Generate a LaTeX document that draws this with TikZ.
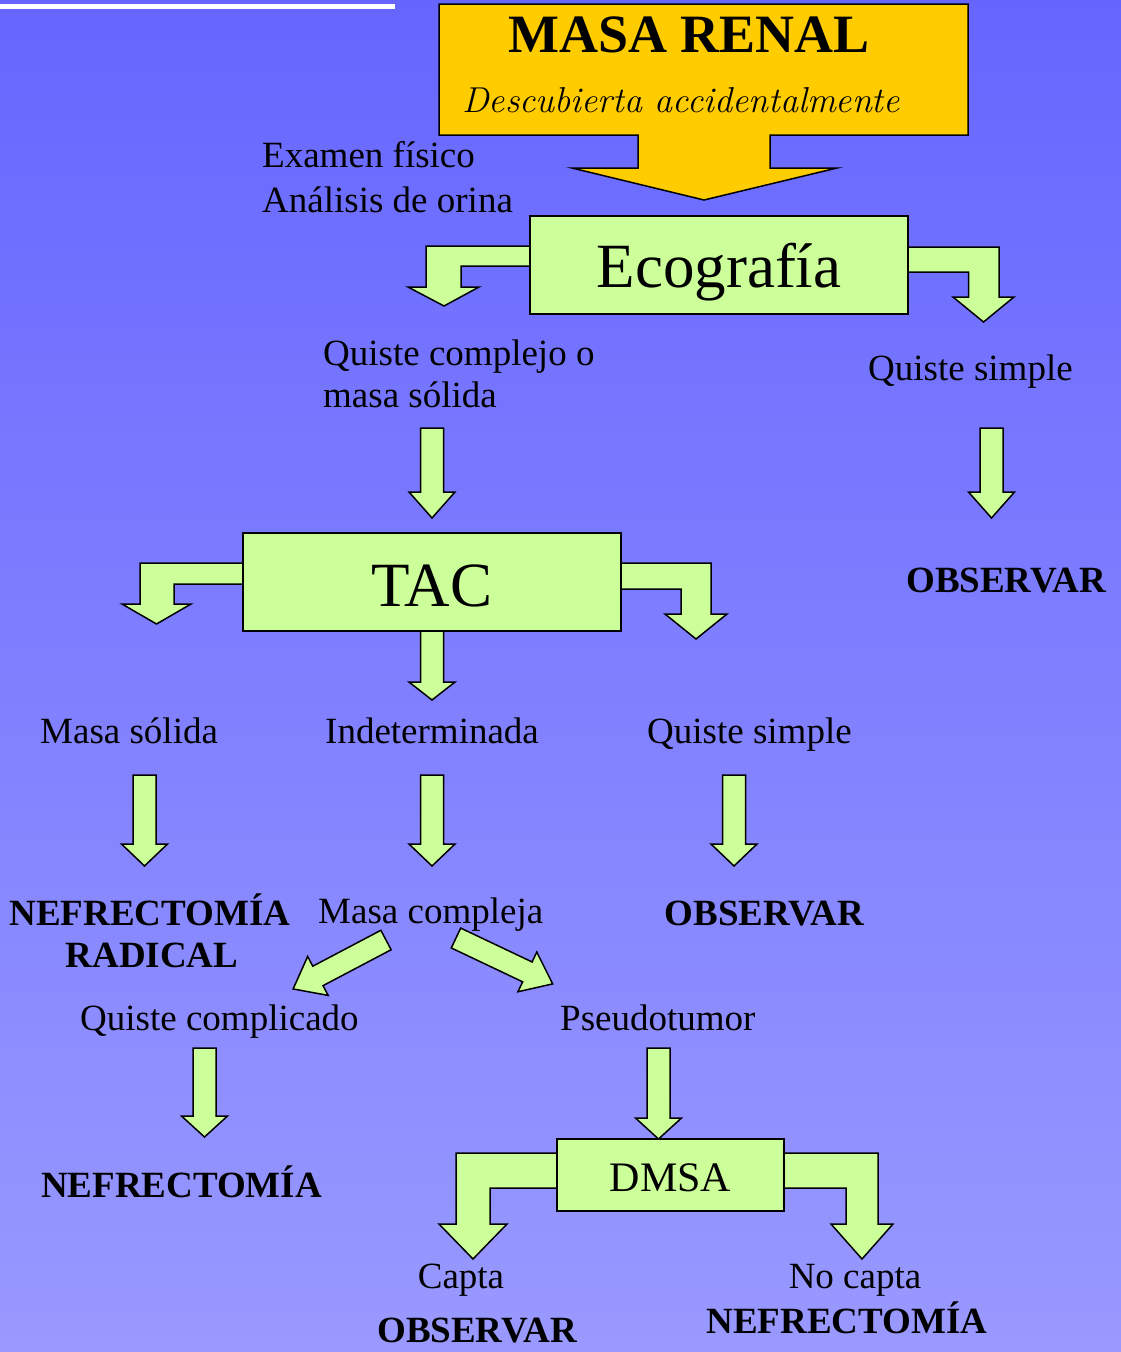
\documentclass[tikz,border=0pt]{standalone}
\usepackage{fontspec}
\setmainfont{Liberation Serif}
\usetikzlibrary{calc}

\definecolor{bgtop}{RGB}{102,102,255}
\definecolor{bgbot}{RGB}{153,153,255}
\definecolor{verde}{RGB}{204,255,153}
\definecolor{amarillo}{RGB}{255,204,0}

\begin{document}
\begin{tikzpicture}[x=1pt,y=-1pt,line join=miter]

\tikzset{blk/.style={draw=black,fill=verde,line width=1.5pt},
caja/.style={blk,inner sep=0pt,font=\fontsize{63}{70}\selectfont,text depth=0pt},
txt/.style={inner sep=0pt,anchor=base west,font=\fontsize{37}{42}\selectfont},
neg/.style={inner sep=0pt,anchor=base,font=\fontsize{37}{42}\selectfont\bfseries}}

% x, y top, y tip, head length
\newcommand{\flechaabajo}[4]{%
\draw[blk] (#1-11.5,#2) -- (#1+11.5,#2) -- (#1+11.5,#3-#4) -- (#1+23,#3-#4) -- (#1,#3) -- (#1-23,#3-#4) -- (#1-11.5,#3-#4) -- cycle;}

% x, y of tail, angle, length
\newcommand{\flechadiag}[4]{%
\begin{scope}[shift={(#1,#2)},rotate=#3]
\draw[blk] (0,-11) -- (#4-28,-11) -- (#4-28,-22) -- (#4,0) -- (#4-28,22) -- (#4-28,11) -- (0,11) -- cycle;
\end{scope}}

\shade[top color=bgtop,bottom color=bgbot] (0,0) rectangle (1121,1352);
\useasboundingbox (0,0) rectangle (1121,1352);
\fill[white] (0,4) rectangle (395,9);

% masa renal
\draw[line width=1.5pt,fill=amarillo] (439,4) -- (968,4) -- (968,135) -- (770,135) -- (770,168) -- (837,168) -- (704,200) -- (572,168) -- (638,168) -- (638,135) -- (439,135) -- cycle;
\node[inner sep=0pt,anchor=base,font=\fontsize{54}{60}\selectfont\bfseries] (masa) at (689,52) {MASA RENAL};
\node[inner sep=0pt,anchor=base,font=\fontsize{36}{40}\fontfamily{lmr}\itshape\selectfont] (desc) at (681,112) {Descubierta accidentalmente};

\node[txt] (examen) at (262,167) {Examen físico};
\node[txt] (orina) at (262,212) {Análisis de orina};

% ecografia
\draw[blk] (530,246) -- (426,246) -- (426,287) -- (408,287) -- (444,306) -- (479,287) -- (461,287) -- (461,266) -- (530,266) -- cycle;
\draw[blk] (908,247) -- (999,247) -- (999,297) -- (1014,297) -- (983.5,322) -- (953,297) -- (968.5,297) -- (968.5,272) -- (908,272) -- cycle;
\node[caja,minimum width=378,minimum height=98,text height=44pt] (eco) at (719,265) {Ecografía};

\node[txt] (complejo) at (323,365) {Quiste complejo o};
\node[txt] (solida) at (323,407) {masa sólida};
\node[txt] (simple1) at (868,380) {Quiste simple};
\flechaabajo{432}{428}{518}{26}
\flechaabajo{991.5}{428}{518}{26}
\node[neg] (observar1) at (1006,592) {OBSERVAR};

% tac
\draw[blk] (243,563) -- (140,563) -- (140,604) -- (122,604) -- (156.5,624) -- (191,604) -- (174,604) -- (174,584) -- (243,584) -- cycle;
\draw[blk] (621,563) -- (711,563) -- (711,614) -- (727,614) -- (696,639) -- (665,614) -- (681,614) -- (681,589) -- (621,589) -- cycle;
\flechaabajo{432}{620}{700}{18}
\node[caja,minimum width=378,minimum height=98,text height=48pt] (tac) at (432,582) {TAC};

\node[txt] (msolida) at (40,743) {Masa sólida};
\node[txt] (indet) at (325,743) {Indeterminada};
\node[txt] (simple2) at (647,743) {Quiste simple};
\flechaabajo{144.5}{775}{866}{22}
\flechaabajo{432}{775}{866}{22}
\flechaabajo{734}{775}{866}{22}

\node[neg] (nefrad) at (150,925) {NEFRECTOMÍA};
\node[neg] (radical) at (152,967) {RADICAL};
\node[txt] (mcompleja) at (318,923) {Masa compleja};
\node[neg] (observar2) at (764.5,925) {OBSERVAR};

\flechadiag{386}{940}{207.8}{105}
\flechadiag{456}{938}{-25.4}{107}

\node[txt] (complicado) at (80,1030) {Quiste complicado};
\node[txt] (pseudo) at (560,1030) {Pseudotumor};
\flechaabajo{204.5}{1048}{1137}{21}
\flechaabajo{658.5}{1048}{1139}{21}
\node[neg] (nef) at (181.5,1197) {NEFRECTOMÍA};

% dmsa
\draw[blk] (557,1153) -- (456,1153) -- (456,1224) -- (439,1224) -- (473,1259) -- (507,1224) -- (490,1224) -- (490,1188) -- (557,1188) -- cycle;
\draw[blk] (784,1153) -- (878,1153) -- (878,1224) -- (893,1224) -- (862,1259) -- (831,1224) -- (846,1224) -- (846,1188) -- (784,1188) -- cycle;
\node[caja,minimum width=227,minimum height=72,text height=32pt,font=\fontsize{42}{48}\selectfont] (dmsa) at (670.5,1175) {DMSA};

\node[inner sep=0pt,anchor=base,font=\fontsize{37}{42}\selectfont] (capta) at (461,1288) {Capta};
\node[neg] (observar3) at (477,1342) {OBSERVAR};
\node[inner sep=0pt,anchor=base,font=\fontsize{37}{42}\selectfont] (nocapta) at (855,1288) {No capta};
\node[neg] (nef2) at (847,1333) {NEFRECTOMÍA};

\end{tikzpicture}
\end{document}
